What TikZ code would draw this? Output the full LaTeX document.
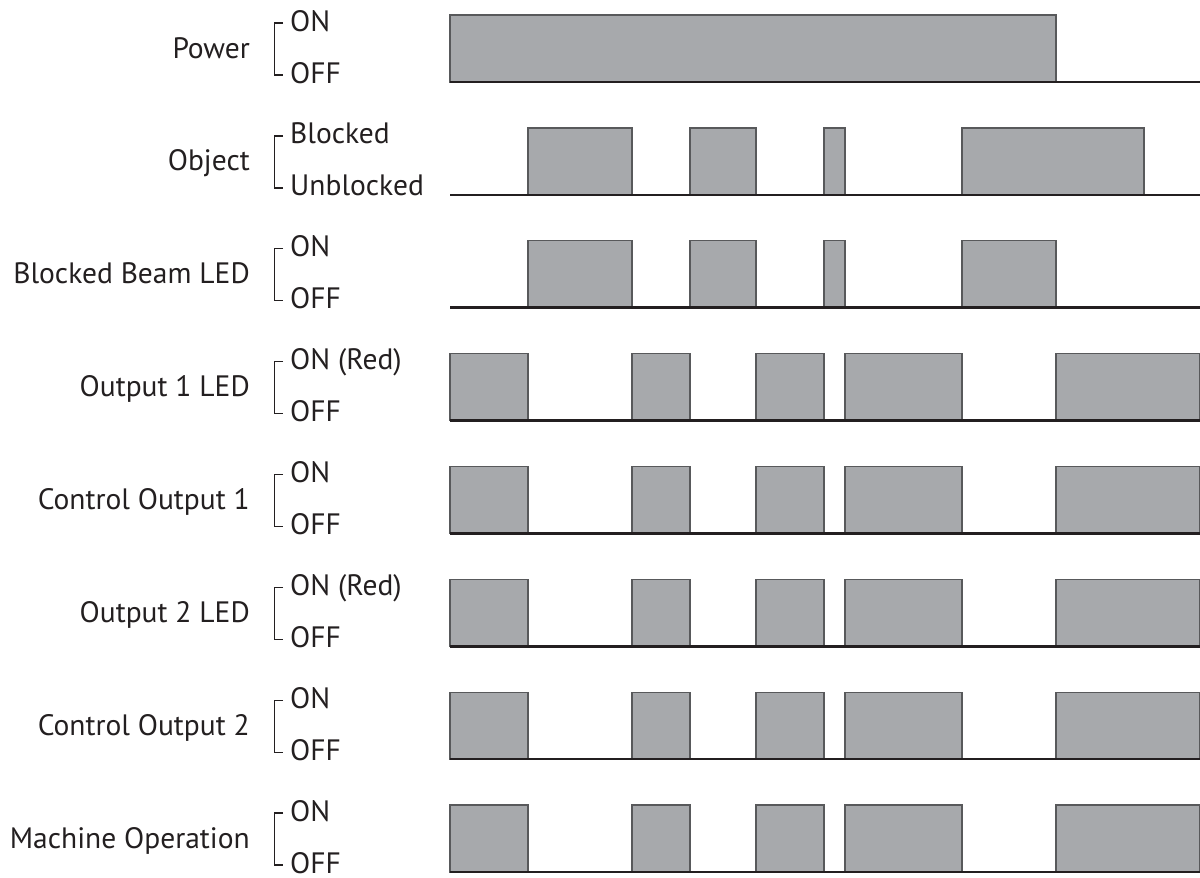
\documentclass[tikz,border=0pt]{standalone}
\usepackage{fontspec}
\setmainfont{PT Sans}
\definecolor{pulsegray}{HTML}{A7A9AC}
\definecolor{edgegray}{HTML}{58595B}
\definecolor{lineblack}{HTML}{231F20}
\begin{document}
\begin{tikzpicture}[x=1pt,y=-1pt,
  pulse/.style={fill=pulsegray,draw=edgegray,line width=1.3pt},
  baseln/.style={draw=lineblack,line width=2.6pt},
  brk/.style={draw=lineblack,line width=1.3pt},
  lbl/.style={anchor=base east,inner sep=0pt,font=\fontsize{29.5}{32}\selectfont,text=lineblack},
  st/.style={anchor=base west,inner sep=0pt,font=\fontsize{29.5}{32}\selectfont,text=lineblack}]
\useasboundingbox (0,0) rectangle (1200,878);
\foreach \i/\name/\on/\off/\pulses in {
  0/Power/ON/OFF/{450/1056},
  1/Object/Blocked/Unblocked/{528/632,690/756,824/845,962/1144},
  2/Blocked Beam LED/ON/OFF/{528/632,690/756,824/845,962/1056},
  3/Output 1 LED/ON (Red)/OFF/{450/528,632/690,756/824,845/962,1056/1200},
  4/Control Output 1/ON/OFF/{450/528,632/690,756/824,845/962,1056/1200},
  5/Output 2 LED/ON (Red)/OFF/{450/528,632/690,756/824,845/962,1056/1200},
  6/Control Output 2/ON/OFF/{450/528,632/690,756/824,845/962,1056/1200},
  7/Machine Operation/ON/OFF/{450/528,632/690,756/824,845/962,1056/1200}} {
  \pgfmathsetmacro{\b}{82+112.86*\i}
  \foreach \xa/\xb in \pulses {
    \path[pulse] (\xa,\b) rectangle (\xb,\b-67);
  }
  \draw[baseln] (450,\b) -- (1200,\b);
  \node[lbl] (label\i) at (250,\b-24) {\name};
  \node[st] (on\i) at (290,\b-51) {\on};
  \node[st] (off\i) at (290,\b+1) {\off};
  \draw[brk] (283,\b-59) -- (274.5,\b-59) -- (274.5,\b-7) -- (283,\b-7);
}
\end{tikzpicture}
\end{document}
